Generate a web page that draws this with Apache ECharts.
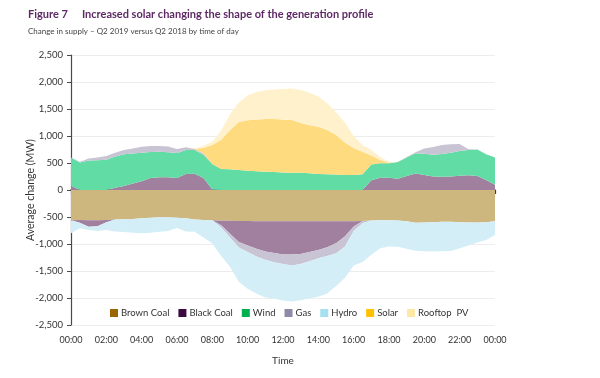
<!DOCTYPE html>
<html>
<head>
<meta charset="utf-8">
<script src="https://cdn.jsdelivr.net/npm/echarts@6/dist/echarts.min.js"></script>
<style>
html,body{margin:0;padding:0;background:#fff;}
#chart{width:600px;height:378px;}
</style>
</head>
<body>
<div id="chart"></div>
<script>
// Half-hourly time categories (00:00 .. 24:00)
const times = ["00:00","00:30","01:00","01:30","02:00","02:30","03:00","03:30","04:00","04:30","05:00","05:30",
  "06:00","06:30","07:00","07:30","08:00","08:30","09:00","09:30","10:00","10:30","11:00","11:30",
  "12:00","12:30","13:00","13:30","14:00","14:30","15:00","15:30","16:00","16:30","17:00","17:30",
  "18:00","18:30","19:00","19:30","20:00","20:30","21:00","21:30","22:00","22:30","23:00","23:30","24:00"];

// Average change (MW) by fuel, Q2 2019 vs Q2 2018
const brownCoal = [-560,-555,-560,-560,-555,-545,-540,-535,-525,-515,-505,-505,
  -515,-525,-545,-555,-560,-570,-570,-575,-575,-577,-577,-577,
  -580,-580,-580,-580,-580,-580,-580,-580,-577,-575,-565,-560,
  -560,-565,-580,-605,-600,-595,-590,-590,-595,-600,-600,-595,-580];
const blackCoal = [80,-50,-120,-110,-40,40,75,120,160,220,235,235,
  220,295,300,220,10,-85,-240,-390,-455,-513,-563,-588,
  -615,-615,-605,-570,-530,-480,-405,-280,-100,0,180,225,
  225,210,260,305,280,250,247,250,265,275,260,185,95];
const wind = [520,508,545,550,560,580,585,555,530,485,475,465,
  465,445,440,435,470,390,385,370,355,345,340,335,
  325,320,320,310,296,290,285,280,280,290,290,269,
  269,310,340,374,390,405,421,440,455,465,490,475,505];
const gas = [0,15,40,50,70,70,80,95,110,110,105,105,
  75,50,20,20,0,-40,-70,-100,-120,-140,-150,-175,
  -175,-205,-185,-170,-155,-160,-185,-190,-80,-40,0,0,
  0,0,10,20,100,140,167,155,130,15,0,0,0];
const hydro = [-240,-105,-60,-90,-145,-225,-240,-255,-275,-275,-270,-255,
  -190,-245,-230,-325,-430,-525,-540,-635,-680,-690,-700,-670,
  -675,-665,-670,-685,-710,-695,-610,-580,-643,-720,-635,-520,
  -485,-485,-510,-520,-535,-545,-545,-540,-485,-430,-370,-330,-253];
const solar = [0,0,0,0,0,0,0,0,0,0,0,0,
  0,0,5,105,353,540,725,890,935,960,975,980,
  980,975,920,890,876,820,735,600,500,420,170,61,
  10,0,0,0,0,0,0,0,0,0,0,0,0];
const rooftopPV = [0,0,0,0,0,0,0,0,0,0,0,0,
  0,0,5,40,62,170,290,360,460,510,530,547,
  567,585,610,600,558,495,420,370,220,123,100,55,
  20,0,0,0,0,0,0,0,0,0,0,0,0];

const yTicks = [-2500,-2000,-1500,-1000,-500,0,500,1000,1500,2000,2500];
const legendNames = ["Brown Coal","Black Coal","Wind","Gas","Hydro","Solar","Rooftop  PV"];
const legendColors = ["#9c6500","#3b0a40","#00b050","#8e8ba8","#a6dff0","#ffc000","#ffe8a6"];
const areaColors = {"Brown Coal":"#cdb77f","Black Coal":"#a07f9f","Wind":"#62dca5","Gas":"#c8c4d4",
  "Hydro":"#d3eef6","Solar":"#ffdb80","Rooftop  PV":"#fff1cc"};

const pos = a => a.map(v => Math.max(v, 0));
const neg = a => a.map(v => Math.min(v, 0));

function areaSeries(name, data, stack) {
  return {
    name: name, type: 'line', stack: stack, stackStrategy: 'all',
    data: data, symbol: 'none', showSymbol: false, smooth: false,
    lineStyle: {opacity: 0, width: 0},
    itemStyle: {color: legendColors[legendNames.indexOf(name)]},
    areaStyle: {color: areaColors[name], opacity: 1},
    emphasis: {disabled: true}, silent: true, animation: false
  };
}

const series = [
  // negative stack (below zero)
  areaSeries("Brown Coal", neg(brownCoal), 'neg'),
  areaSeries("Black Coal", neg(blackCoal), 'neg'),
  areaSeries("Gas", neg(gas), 'neg'),
  areaSeries("Hydro", neg(hydro), 'neg'),
  // positive stack (above zero)
  areaSeries("Black Coal", pos(blackCoal), 'pos'),
  areaSeries("Wind", pos(wind), 'pos'),
  areaSeries("Gas", pos(gas), 'pos'),
  areaSeries("Solar", pos(solar), 'pos'),
  areaSeries("Rooftop  PV", pos(rooftopPV), 'pos')
];

const chart = echarts.init(document.getElementById('chart'), null, {renderer: 'canvas'});
const FONT = 'Lato';
chart.setOption({
  animation: false,
  backgroundColor: '#ffffff',
  title: [
    {text: '{a|Figure 7}{b|Increased solar changing the shape of the generation profile}',
     left: 23, top: 4,
     textStyle: {rich: {
       a: {fontFamily: FONT, fontWeight: 'bold', fontSize: 11, color: '#5e2a66', padding: [0, 14, 0, 0]},
       b: {fontFamily: FONT, fontWeight: 'bold', fontSize: 11, color: '#5e2a66'}
     }}},
    {text: 'Change in supply \u2013 Q2 2019 versus Q2 2018 by time of day',
     left: 23, top: 22,
     textStyle: {fontFamily: FONT, fontWeight: 'normal', fontSize: 8, color: '#444'}}
  ],
  legend: {
    data: legendNames.map((n, i) => ({name: n, icon: 'rect', itemStyle: {color: legendColors[i]}})),
    left: 105, top: 303, itemWidth: 8, itemHeight: 8, itemGap: 9,
    textStyle: {fontFamily: FONT, fontSize: 9.5, color: '#333', padding: [0, 0, 0, -2]},
    selectedMode: false
  },
  grid: {left: 71, right: 105, top: 55, bottom: 53},
  xAxis: [
    {type: 'category', data: times, boundaryGap: false, position: 'bottom',
     name: 'Time', nameLocation: 'middle', nameGap: 31, nameMoveOverlap: false,
     nameTextStyle: {fontFamily: FONT, fontSize: 10, color: '#333'},
     axisLine: {show: false, onZero: false}, axisTick: {show: false},
     axisLabel: {interval: 3, fontFamily: FONT, fontSize: 9, color: '#333', margin: 11,
       formatter: v => v === '24:00' ? '00:00' : v},
     splitLine: {show: false}},
    {type: 'category', data: times, boundaryGap: false, position: 'top',
     axisLine: {show: true, onZero: true, lineStyle: {color: '#3c3c3c', width: 1.5}},
     axisTick: {show: true, interval: 3, inside: true, length: 4, lineStyle: {color: '#3c3c3c', width: 1.2}},
     axisLabel: {show: false}, splitLine: {show: false}}
  ],
  yAxis: {
    type: 'value', min: yTicks[0], max: yTicks[yTicks.length - 1], interval: 500,
    name: 'Average change (MW)', nameLocation: 'middle', nameGap: 35, nameMoveOverlap: false,
    nameTextStyle: {fontFamily: FONT, fontSize: 10.5, color: '#333'},
    axisLine: {show: true, lineStyle: {color: '#4a4a4a', width: 1.2}},
    axisTick: {show: true, length: 4, lineStyle: {color: '#4a4a4a'}},
    axisLabel: {fontFamily: FONT, fontSize: 9.5, color: '#333', margin: 8},
    splitLine: {show: true, lineStyle: {color: '#ededed', width: 1}}
  },
  series: series
});
</script>
</body>
</html>
